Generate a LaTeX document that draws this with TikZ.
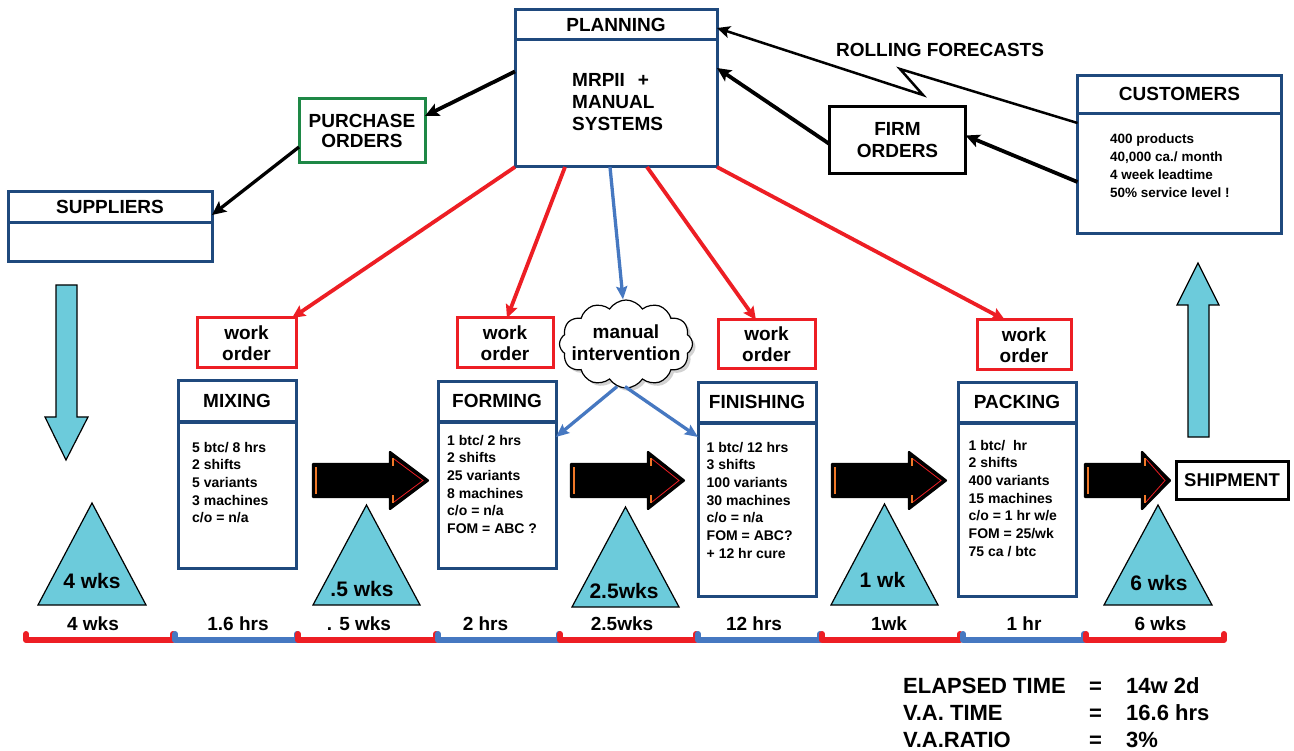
\documentclass[tikz,border=0pt]{standalone}
\usepackage{fontspec}
\setmainfont{Liberation Sans}
\usetikzlibrary{arrows.meta,shapes.symbols,shadows}
\definecolor{navy}{RGB}{31,73,125}
\definecolor{wred}{RGB}{237,30,36}
\definecolor{lblue}{RGB}{70,120,193}
\definecolor{pgreen}{RGB}{30,136,70}
\definecolor{cyanfill}{RGB}{108,203,219}
\definecolor{arrorange}{RGB}{240,120,40}
\newcommand\fsz[2]{\fontsize{#1}{#2}\selectfont\bfseries}
\newcommand\pusharr[3]{%
  \path[fill=black, draw=black, line width=2.2pt, line join=round] (#1,464) -- (#2,464) -- (#2,452) -- (#3,480.5) -- (#2,509) -- (#2,497) -- (#1,497) -- cycle;
  \draw[arrorange, line width=1.4pt] ({#1+3},467) -- ({#1+3},494);
  \draw[arrorange, line width=1.2pt] ({#2+3},458) -- ({#2+3},466) ({#2+3},495) -- ({#2+3},503);
  \draw[wred, line width=0.8pt] ({#2+4},459) -- ({#3-5},480.5) -- ({#2+4},502);
}
\newcommand\invtri[4]{\draw[tri] (#1,#2) -- ({#1+#4},#3) -- ({#1-#4},#3) -- cycle;}
\tikzset{
  boxbase/.style={line width=3pt, inner sep=0pt, outer sep=0pt, align=center},
  navybox/.style={boxbase, draw=navy},
  blackbox/.style={boxbase, draw=black},
  redbox/.style={boxbase, draw=wred, font=\fsz{19}{21}},
  greenbox/.style={boxbase, draw=pgreen},
  hdrline/.style={draw=navy, line width=3pt},
  ttl/.style={font=\fsz{19}{22}, inner sep=0pt, anchor=base},
  bodytxt/.style={font=\fsz{14}{17.7}, align=left, inner sep=0pt, anchor=north west},
  custtxt/.style={font=\fsz{13.5}{18}, align=left, inner sep=0pt, anchor=north west},
  lbl/.style={font=\fsz{19}{22}, inner sep=0pt, anchor=base},
  trilbl/.style={font=\fsz{21}{24}, inner sep=0pt, anchor=base},
  sumtxt/.style={font=\fsz{22}{27}, inner sep=0pt, anchor=base west},
  tri/.style={fill=cyanfill, draw=black, line width=1.2pt, line join=miter},
  cyanarr/.style={fill=cyanfill, draw=black, line width=1.2pt},
  blkarr/.style={draw=black, line width=3.8pt, -{Stealth[length=14pt,width=13pt,inset=3pt]}},
  thinblk/.style={draw=black, line width=2.5pt, -{Stealth[length=13pt,width=12pt,inset=3pt]}},
  redarr/.style={draw=wred, line width=3.8pt, -{Stealth[length=13pt,width=12pt,inset=2pt]}},
  bluearr/.style={draw=lblue, line width=3.3pt, -{Stealth[length=13pt,width=11pt,inset=2pt]}},
  cloudbox/.style={cloud, cloud puffs=12, cloud puff arc=115, aspect=1.5, draw=black, fill=white, line width=1.2pt, minimum width=133pt, minimum height=88pt, inner sep=0pt, drop shadow={shadow xshift=3pt, shadow yshift=-3pt, opacity=0.35, fill=gray}},
}
\begin{document}
\begin{tikzpicture}[x=1pt,y=-1pt]
\useasboundingbox (0,0) rectangle (1294,751);
\fill[white] (0,0) rectangle (1294,751);

% ---- boxes ----
\node[navybox, minimum width=202pt, minimum height=157pt] (plan) at (616,88.5) {};
\draw[hdrline] ([yshift=-30pt]plan.north west) -- ([yshift=-30pt]plan.north east);
\node[ttl] (planT) at (616,32) {PLANNING};
\node[font=\fsz{19}{22}, align=left, inner sep=0pt, anchor=north west] (planB) at (572,73) {MRPII\hspace{13pt}+\\MANUAL\\SYSTEMS};

\node[greenbox, minimum width=126pt, minimum height=64pt, font=\fsz{19}{20}] (po) at (362,131) {PURCHASE\\ORDERS};

\node[navybox, minimum width=204pt, minimum height=70pt] (sup) at (110,227) {};
\draw[hdrline] ([yshift=-31pt]sup.north west) -- ([yshift=-31pt]sup.north east);
\node[ttl] (supT) at (110,214) {SUPPLIERS};

\node[navybox, minimum width=204pt, minimum height=158pt] (cust) at (1179.5,155) {};
\draw[hdrline] ([yshift=-38pt]cust.north west) -- ([yshift=-38pt]cust.north east);
\node[ttl] (custT) at (1179.5,101) {CUSTOMERS};
\node[custtxt] (custB) at (1110,133.5) {400 products\\40,000 ca./ month\\4 week leadtime\\50\% service level !};

\node[blackbox, minimum width=136pt, minimum height=67pt, font=\fsz{19}{22}] (firm) at (897.5,140.5) {FIRM\\ORDERS};

\node[font=\fsz{19}{22}, inner sep=0pt, anchor=base] (rollT) at (940,57) {ROLLING FORECASTS};

% work orders
\node[redbox, minimum width=99pt, minimum height=50pt] (wo1) at (246.5,343) {work\\order};
\node[redbox, minimum width=96pt, minimum height=50pt] (wo2) at (505,343) {work\\order};
\node[redbox, minimum width=97pt, minimum height=49pt] (wo3) at (766.5,344.5) {work\\order};
\node[redbox, minimum width=94pt, minimum height=50pt] (wo4) at (1024,345) {work\\order};

% cloud
\node[cloudbox] (cloud) at (626,344) {};
\node[font=\fsz{19}{22}, align=center, inner sep=0pt] (cloudT) at (626,343) {manual\\intervention};

% process boxes
\node[navybox, minimum width=118pt, minimum height=187pt] (mix) at (237,474.5) {};
\draw[hdrline] ([yshift=-41pt]mix.north west) -- ([yshift=-41pt]mix.north east);
\node[ttl] (mixT) at (237,408) {MIXING};
\node[bodytxt] (mixB) at (192,441.7) {5 btc/ 8 hrs\\2 shifts\\5 variants\\3 machines\\c/o = n/a};

\node[navybox, minimum width=118pt, minimum height=186pt] (form) at (497,475) {};
\draw[hdrline] ([yshift=-40pt]form.north west) -- ([yshift=-40pt]form.north east);
\node[ttl] (formT) at (497,408) {FORMING};
\node[bodytxt] (formB) at (447,434.7) {1 btc/ 2 hrs\\2 shifts\\25 variants\\8 machines\\c/o = n/a\\FOM = ABC ?};

\node[navybox, minimum width=118pt, minimum height=213pt] (fin) at (757,489.5) {};
\draw[hdrline] ([yshift=-40pt]fin.north west) -- ([yshift=-40pt]fin.north east);
\node[ttl] (finT) at (757,409) {FINISHING};
\node[bodytxt] (finB) at (706.5,441.7) {1 btc/ 12 hrs\\3 shifts\\100 variants\\30 machines\\c/o = n/a\\FOM = ABC?\\+ 12 hr cure};

\node[navybox, minimum width=118pt, minimum height=213pt] (pack) at (1017,489.5) {};
\draw[hdrline] ([yshift=-40pt]pack.north west) -- ([yshift=-40pt]pack.north east);
\node[ttl] (packT) at (1017,409) {PACKING};
\node[bodytxt] (packB) at (968.5,439.7) {1 btc/\ \ hr\\2 shifts\\400 variants\\15 machines\\c/o = 1 hr w/e\\FOM = 25/wk\\75 ca / btc};

\node[blackbox, minimum width=112pt, minimum height=38pt, font=\fsz{18.5}{21}] (ship) at (1232,480.5) {SHIPMENT};

% ---- connectors ----
\draw[blkarr] ([yshift=17pt]plan.west) -- ([yshift=15pt]po.east);
\draw[blkarr, line width=3.3pt] ([yshift=-16pt]po.west) -- ([yshift=12pt]sup.east);
\coordinate (z1) at (900,69);
\coordinate (z2) at (923,95);
\draw[thinblk] ([yshift=32pt]cust.west) -- (z1) -- (z2) -- ([yshift=60.5pt]plan.east);
\draw[blkarr] ([yshift=-27pt]cust.west) -- ([yshift=5pt]firm.east);
\draw[blkarr] ([yshift=-3.5pt]firm.west) -- ([yshift=20.5pt]plan.east);

\draw[redarr] (plan.south west) -- ([xshift=-4pt]wo1.north east);
\draw[redarr] ([xshift=-51pt]plan.south) -- ([xshift=2pt]wo2.north);
\draw[redarr] ([xshift=31pt]plan.south) -- ([xshift=-10.5pt]wo3.north);
\draw[redarr] (plan.south east) -- ([xshift=-19pt]wo4.north);
\draw[bluearr] ([xshift=-6pt]plan.south) -- ([xshift=-3pt]cloud.north);
\draw[bluearr] ([xshift=-9pt,yshift=2pt]cloud.south) -- ([yshift=38pt]form.east);
\draw[bluearr] ([xshift=-1pt,yshift=2pt]cloud.south) -- ([yshift=52.5pt]fin.west);

% ---- push arrows ----
\pusharr{313}{390}{428}
\pusharr{571}{648}{684}
\pusharr{832}{909}{946}
\pusharr{1085}{1142}{1170}

% ---- cyan block arrows ----
\path[cyanarr] (56,285) -- (77,285) -- (77,417) -- (88,417) -- (66,460) -- (45,417) -- (56,417) -- cycle;
\path[cyanarr] (1188,437) -- (1209,437) -- (1209,305) -- (1219,305) -- (1198,263) -- (1177,305) -- (1188,305) -- cycle;

% ---- inventory triangles ----
\invtri{92}{503}{605}{54}
\invtri{366.5}{505}{605}{53.5}
\invtri{625.5}{507}{607}{53.5}
\invtri{884.5}{504}{605}{53.5}
\invtri{1158}{505}{605}{54}
\node[trilbl] (i1) at (92,588) {4 wks};
\node[trilbl] (i2) at (362,596) {.5 wks};
\node[trilbl] (i3) at (624,598) {2.5wks};
\node[trilbl] (i4) at (882.5,587) {1 wk};
\node[trilbl] (i5) at (1159,590) {6 wks};

% ---- timeline ----
\foreach \a/\b/\c/\m/\l [count=\i] in {26/173/wred/93/4 wks, 175/297/lblue/238/1.6 hrs, 298/436/wred/359/. 5 wks, 438/559/lblue/485.5/2 hrs, 560/696/wred/622/2.5wks, 698/820/lblue/754/12 hrs, 822/960/wred/889/1wk, 963/1084/lblue/1024/1 hr, 1086/1224/wred/1160.5/6 wks} {
  \draw[\c, line width=6pt, line cap=round, line join=round] (\a,634) -- (\a,640) -- (\b,640) -- (\b,634);
  \node[lbl] (tl\i) at (\m,630) {\l};
}

% ---- summary ----
\node[sumtxt] (s1a) at (903,693) {ELAPSED TIME};
\node[sumtxt] (s1b) at (1089,693) {=};
\node[sumtxt] (s1c) at (1126,693) {14w 2d};
\node[sumtxt] (s2a) at (903,720) {V.A. TIME};
\node[sumtxt] (s2b) at (1089,720) {=};
\node[sumtxt] (s2c) at (1126,720) {16.6 hrs};
\node[sumtxt] (s3a) at (903,747) {V.A.RATIO};
\node[sumtxt] (s3b) at (1089,747) {=};
\node[sumtxt] (s3c) at (1126,747) {3\%};
\end{tikzpicture}
\end{document}
